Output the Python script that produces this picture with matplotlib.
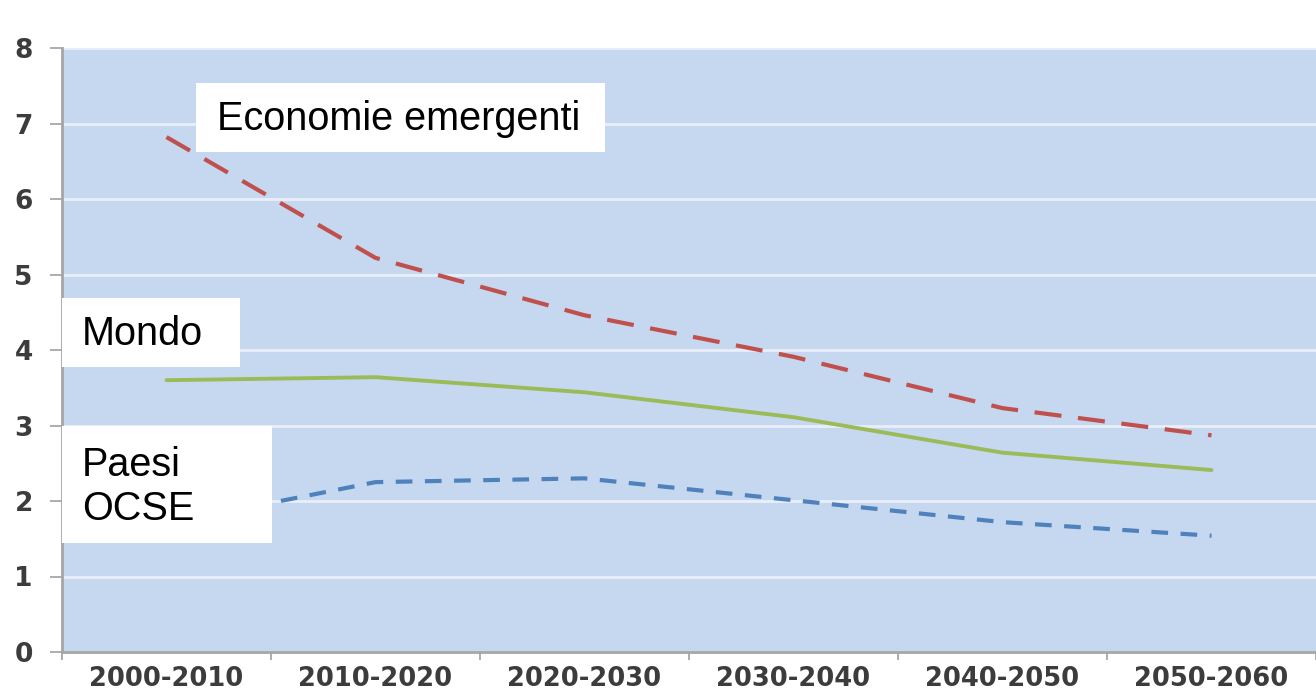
import matplotlib
matplotlib.use("Agg")
import matplotlib.pyplot as plt
from matplotlib.patches import Rectangle

periods = ["2000-2010", "2010-2020", "2020-2030", "2030-2040", "2040-2050", "2050-2060"]
emergenti = [6.82, 5.22, 4.46, 3.91, 3.23, 2.87]
mondo = [3.60, 3.64, 3.44, 3.11, 2.64, 2.41]
ocse = [1.70, 2.25, 2.30, 2.01, 1.72, 1.54]

plt.rcParams["font.family"] = "DejaVu Sans"
plt.rcParams["font.weight"] = "bold"

W, H = 1316, 694
fig = plt.figure(figsize=(W / 100, H / 100), dpi=100)
fig.patch.set_facecolor("white")

# plot area in pixels: left 62, top 48, bottom 652, runs off the right edge
ax = fig.add_axes([62 / W, 1 - 652 / H, (W - 62) / W, (652 - 48) / H])
ax.set_facecolor("#c6d8ef")

x = list(range(len(periods)))
ax.plot(x, emergenti, color="#c0504d", lw=3.0, dashes=(6.5, 4), zorder=3)
ax.plot(x, mondo, color="#9bbb59", lw=2.8, solid_capstyle="round", zorder=3)
ax.plot(x, ocse, color="#4f81bd", lw=3.0, dashes=(4, 3), zorder=3)

ax.set_ylim(0, 8)
ax.set_xlim(-0.5, -0.5 + (W - 62) / 211)
ax.set_yticks(range(0, 9))
ax.yaxis.grid(True, color="#e9eff8", lw=2)
ax.set_axisbelow(True)

ax.set_xticks(x)
ax.set_xticklabels(periods)
ax.set_xticks([i - 0.5 for i in range(len(periods) + 1)], minor=True)
ax.tick_params(axis="x", which="major", length=0, pad=10, labelsize=18.5, labelcolor="#3c3c3c")
ax.tick_params(axis="x", which="minor", length=6, width=1.2, color="#a0a0a0")
ax.tick_params(axis="y", length=9, width=1.2, color="#a0a0a0", pad=12, labelsize=19,
               labelcolor="#3c3c3c")

for s in ["top", "right"]:
    ax.spines[s].set_visible(False)
for s in ["left", "bottom"]:
    ax.spines[s].set_color("#a6a6a6")
    ax.spines[s].set_linewidth(2)


def label_box(x0, y0, x1, y1, tx, ty, text):
    # white box with series name, pixel coords measured from the top-left
    fig.patches.append(Rectangle((x0 / W, 1 - y1 / H), (x1 - x0) / W, (y1 - y0) / H,
                                 transform=fig.transFigure, facecolor="white",
                                 edgecolor="none", zorder=5))
    fig.text(tx / W, 1 - ty / H, text, fontsize=28.5, family="Liberation Sans",
             fontweight="normal", ha="left", va="center", color="black",
             linespacing=1.2, zorder=6)


label_box(196, 83, 605, 152, 217, 119, "Economie emergenti")
label_box(62, 298, 240, 367, 82, 334, "Mondo")
label_box(62, 426, 272, 543, 82, 487, "Paesi\nOCSE")

fig.savefig("out.png", dpi=100)
